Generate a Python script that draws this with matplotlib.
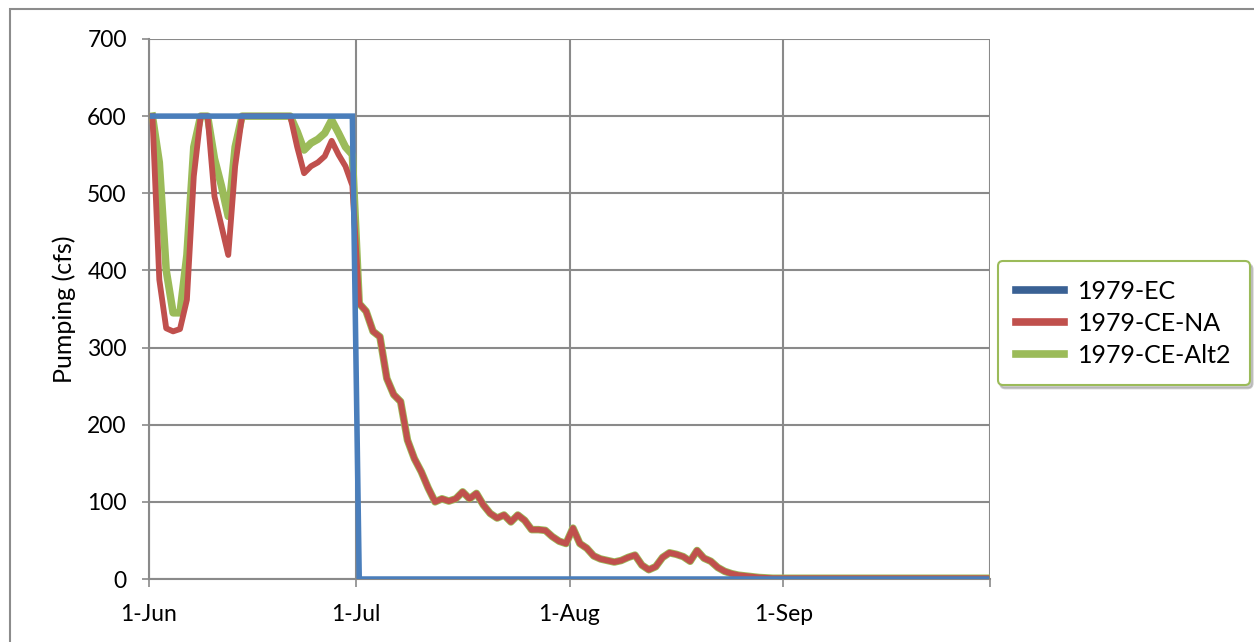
import pandas as pd
import matplotlib.pyplot as plt
from matplotlib.lines import Line2D
from matplotlib.patches import Rectangle

plt.rcParams['font.family'] = ['Lato', 'DejaVu Sans']

# daily pumping, 1-Jun .. 30-Sep 1979 (cfs)
ec = [600] * 30 + [0] * 92

ce_na_june = [600, 388, 325, 321, 324, 362, 522, 600, 600, 496,
              458, 420, 535, 600, 600, 600, 600, 600, 600, 600,
              600, 560, 526, 535, 540, 548, 568, 550, 535, 510]
ce_alt2_june = [600, 540, 400, 345, 345, 420, 560, 600, 600, 545,
                510, 470, 560, 600, 600, 600, 600, 600, 600, 600,
                600, 580, 556, 565, 570, 578, 595, 578, 560, 550]
# Jul-Sep: both CE runs are the same
ce_summer = [357, 347, 321, 314, 260, 239, 230, 180, 156, 139,
             118, 100, 104, 101, 104, 113, 104, 111, 96, 85,
             79, 83, 74, 83, 76, 64, 64, 63, 55, 49,
             46,
             66, 46, 40, 30, 26, 24, 22, 24, 28, 31,
             18, 12, 16, 28, 34, 32, 29, 23, 37, 27,
             23, 15, 10, 7, 5, 4, 3, 2, 1.5, 1,
             1,
             1, 1, 1, 1, 1, 1, 1, 1, 1, 1,
             1, 1, 1, 1, 1, 1, 1, 1, 1, 1,
             1, 1, 1, 1, 1, 1, 1, 1, 1, 1]
ce_na = ce_na_june + ce_summer
ce_alt2 = ce_alt2_june + ce_summer

series_names = ['1979-EC', '1979-CE-NA', '1979-CE-Alt2']
tick_labels = ['1-Jun', '1-Jul', '1-Aug', '1-Sep', '']

# points sit in the middle of each day (Excel "between tick marks")
days = pd.date_range('1979-06-01', periods=len(ec)) + pd.Timedelta(hours=12)

fig = plt.figure(figsize=(12.54, 6.42), dpi=100)
ax = fig.add_axes([0.1188, 0.0981, 0.6707, 0.8412])

ax.plot(days, ce_alt2, color='#9BBB59', lw=5.4, solid_joinstyle='round', zorder=3)
ax.plot(days, ce_na, color='#C0504D', lw=4.2, solid_joinstyle='round', zorder=4)
ax.plot(days, ec, color='#4A7EBB', lw=4.0, solid_joinstyle='miter', zorder=5)

ax.set_xlim(pd.Timestamp('1979-06-01'), pd.Timestamp('1979-10-01'))
ax.set_ylim(0, 700)
ax.set_yticks(range(0, 701, 100))
month_ticks = pd.date_range('1979-06-01', '1979-10-01', freq='MS')
ax.set_xticks(month_ticks)
ax.set_xticklabels(tick_labels)

ax.grid(True, color='#8a8a8a', lw=1.5)
ax.set_axisbelow(True)
for side in ['top', 'right']:
    ax.spines[side].set_visible(False)
for side in ['left', 'bottom']:
    ax.spines[side].set_color('#8a8a8a')
    ax.spines[side].set_linewidth(1.5)
ax.tick_params(axis='y', length=5, width=1.2, color='#8a8a8a', pad=11, labelsize=16.5)
ax.tick_params(axis='x', length=6, width=1.2, color='#8a8a8a', pad=12, labelsize=16.5)
ax.set_ylabel('Pumping (cfs)', fontsize=18, labelpad=8)

handles = [Line2D([], [], color='#3A6194', lw=5.5),
           Line2D([], [], color='#C0504D', lw=5.5),
           Line2D([], [], color='#9BBB59', lw=5.5)]
leg = fig.legend(handles, series_names, loc='upper left',
                 bbox_to_anchor=(990 / 1254, 1 - 254 / 642), fontsize=18,
                 frameon=True, fancybox=True, handlelength=1.9, handletextpad=0.55,
                 labelspacing=0.35, borderpad=0.75, borderaxespad=0.3,
                 shadow={'color': '0.6', 'alpha': 0.5})
leg.get_frame().set_edgecolor('#9BBB59')
leg.get_frame().set_linewidth(1.5)

# outer chart-area frame (cut off at right and bottom)
fig.patches.append(Rectangle((10 / 1254, -0.2), 1.2, 1.2 - 9 / 642,
                             transform=fig.transFigure, fill=False,
                             edgecolor='#8c8c8c', lw=1.5))

fig.savefig('out.png', dpi=100)
